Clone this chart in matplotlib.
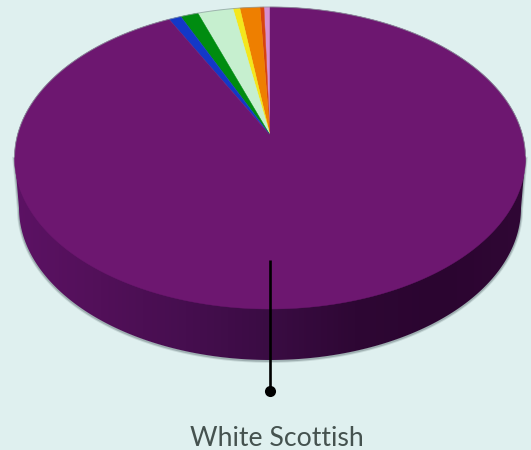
import numpy as np
import matplotlib
matplotlib.use("Agg")
import matplotlib.pyplot as plt
from matplotlib.colors import LinearSegmentedColormap
from matplotlib.patches import PathPatch
from matplotlib.path import Path

# Population shares (percent), anticlockwise from twelve o'clock
shares = [0.44, 0.29, 1.47, 0.50, 2.60, 1.30, 0.90, 92.50]
colors = ["#d58fcf", "#d8430f", "#ee7f00", "#f4e71c", "#c6efcf", "#008c10", "#1338c8", "#6d1770"]
label = "White Scottish"

W, H = 531, 450
BG = "#dff0ef"
CX, CY = 270, 158      # centre of the top-face ellipse
RX, RY = 255.5, 151    # ellipse semi-axes
APEX_Y = 135           # where the slices meet, shifted back by the tilt
BASE_CY = 208          # centre of the base ellipse
BASE_RX, BASE_RY = 251, 152

fig = plt.figure(figsize=(W / 100, H / 100), dpi=100, facecolor=BG)
ax = fig.add_axes([0, 0, 1, 1])
ax.set_xlim(0, W)
ax.set_ylim(H, 0)
ax.axis("off")

c = (CY - APEX_Y) / RY
scale_x = RX * np.sqrt(1 - c ** 2)


def project(theta):
    """Tilted-disc projection; theta is measured anticlockwise from the top."""
    u, v = -np.sin(theta), np.cos(theta)
    w = 1 + c * v
    return CX + scale_x * u / w, CY - (RY * v + (CY - APEX_Y)) / w


# Side wall between the top-face rim and the base ellipse
t = np.linspace(np.pi, 2 * np.pi, 300)
top_x, top_y = CX + RX * np.cos(t), CY - RY * np.sin(t)
base_x, base_y = CX + BASE_RX * np.cos(t), BASE_CY - BASE_RY * np.sin(t)
wall = np.vstack([
    np.column_stack([base_x, base_y]),
    np.column_stack([top_x[::-1], top_y[::-1] - 2]),
])
wall_path = Path(np.vstack([wall, wall[0]]), closed=True)

# Soft grey shadow hugging the outer silhouette
for width, alpha in [(3.0, 0.18), (1.6, 0.35)]:
    ax.plot(np.r_[top_x[0], base_x, top_x[-1]], np.r_[top_y[0], base_y, top_y[-1]] + 0.8,
            color="#55666a", lw=width, alpha=alpha, zorder=0.5)

shade = LinearSegmentedColormap.from_list(
    "wall", ["#5c1264", "#521059", "#460e4f", "#3a0c43", "#2e0734", "#2b0530", "#300735"]
)
img = ax.imshow(
    np.linspace(0, 1, 256)[None, :], cmap=shade, extent=(CX - RX, CX + RX, H, 0),
    aspect="auto", zorder=1,
)
img.set_clip_path(PathPatch(wall_path, transform=ax.transData))
ax.set_xlim(0, W)
ax.set_ylim(H, 0)

# Top face
fractions = np.array(shares) / np.sum(shares)
edges = np.concatenate([[0], np.cumsum(fractions)]) * 2 * np.pi
for start, stop, color in zip(edges[:-1], edges[1:], colors):
    th = np.linspace(start, stop, max(3, int((stop - start) * 120)))
    x, y = project(th)
    ax.fill(np.r_[CX, x], np.r_[APEX_Y, y], color=color, lw=0.3, zorder=2)

# Faint rim along the far edge
rim = np.linspace(0.0, 2 * np.pi, 400)
rim_x = CX + RX * np.cos(rim)
rim_y = CY - RY * np.sin(rim)
upper = rim_y < CY
ax.plot(rim_x[upper], rim_y[upper], color="#8a9a9c", lw=0.7, alpha=0.7, zorder=3)

# Leader line and label
ax.plot([270, 270], [260, 391], color="black", lw=1.9, solid_capstyle="butt", zorder=4)
ax.plot([270], [391], "o", color="black", ms=8, mew=0, zorder=5)
ax.text(277, 446, label, family="Lato", fontsize=19.2, color="#45524f",
        ha="center", va="baseline", zorder=5)

fig.savefig("out.png", dpi=100, facecolor=BG)
